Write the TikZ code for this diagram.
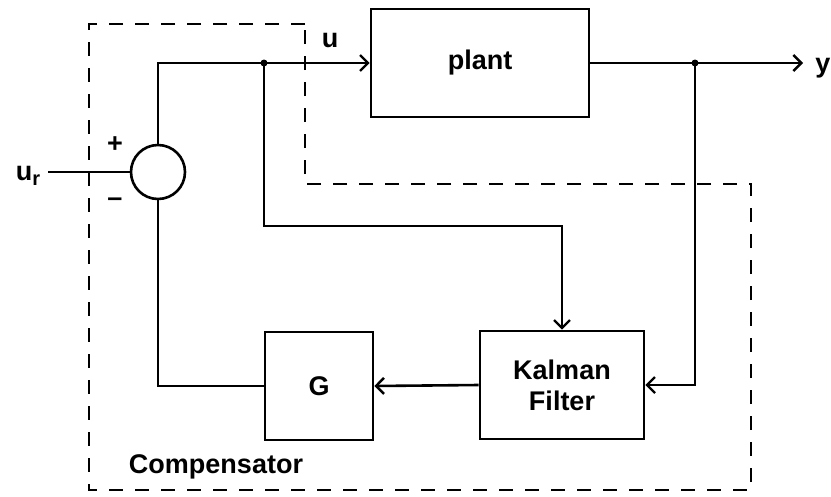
\documentclass[tikz,border=0pt]{standalone}
\usepackage{fontspec}
\setmainfont{Liberation Sans}
\usetikzlibrary{arrows.meta}
\begin{document}
\begin{tikzpicture}[x=1pt,y=-1pt,
  line width=2.6pt,
  boxsty/.style={draw, line width=2.6pt, inner sep=0pt, align=center,
    font=\bfseries\fontsize{27}{31}\selectfont},
  lbl/.style={font=\bfseries\fontsize{27}{31}\selectfont, inner sep=0pt},
  arr/.style={-{Straight Barb[length=8pt,width=16pt,line width=2.4pt]}},
  dashsty/.style={dash pattern=on 14pt off 12pt, line width=2.6pt},
  dotsty/.style={fill, circle, inner sep=0pt, minimum size=7pt}]
\useasboundingbox (0,0) rectangle (831,496);

% blocks
\node[draw, circle, line width=2.6pt, minimum size=54pt, inner sep=0pt] (sum) at (158,172) {};
\node[boxsty, minimum width=218pt, minimum height=108pt] (plant) at (480,63) {plant};
\node[boxsty, minimum width=164pt, minimum height=108pt] (kf) at (562,385) {Kalman\\Filter};
\node[boxsty, minimum width=108pt, minimum height=108pt] (G) at (319,386) {G};

% junctions and free ends
\node[dotsty] (ju) at (264,63) {};
\node[dotsty] (jy) at (695,63) {};
\coordinate (ur) at (48,172);
\coordinate (yout) at (803,63);

% labels
\node[lbl] (lur) at (28,176) {u\raisebox{-5pt}{\fontsize{20}{20}\selectfont r}};
\node[lbl] (lu) at (330,40) {u};
\node[lbl] (ly) at (823,68) {y};
\node[lbl] (lplus) at (115,145) {+};
\node[lbl] (lminus) at (115,202) {–};
\node[lbl] (lcomp) at (216,467) {Compensator};

% connectors
\draw (ur) -- (sum.west);
\draw (sum.north) -- (158,63) -- (ju.center);
\draw[arr] (ju.center) -- (plant.west);
\draw (plant.east) -- (jy.center);
\draw[arr] (jy.center) -- (yout);
\draw[arr] (ju.center) -- (264,226) -- (kf.north |- 0,226) -- (kf.north);
\draw[arr] (jy.center) |- (kf.east);
\draw[arr] (kf.west) -- (G.east);
\draw (G.west) -- (158,386) -- (sum.south);

% compensator boundary
\draw[dashsty] (305,24) -- (89,24) -- (89,490) -- (751,490) -- (751,184) -- (305,184) -- cycle;
\end{tikzpicture}
\end{document}
